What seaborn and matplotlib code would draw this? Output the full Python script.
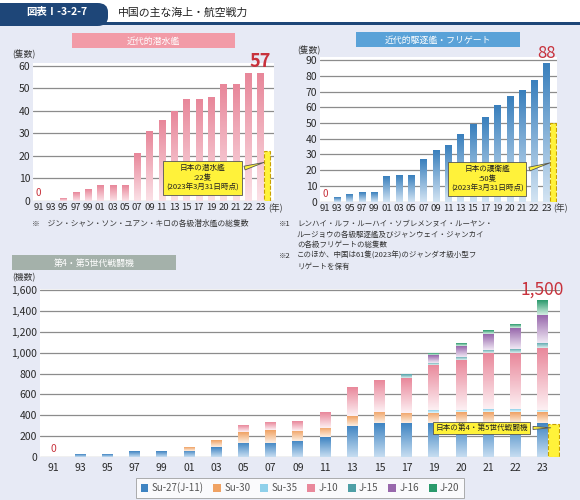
import numpy as np
import matplotlib
matplotlib.use('Agg')
import matplotlib.pyplot as plt
import seaborn as sns
from matplotlib.colors import LinearSegmentedColormap
from matplotlib.patches import Rectangle, FancyBboxPatch, Patch

# ---- data ----
years = ['91', '93', '95', '97', '99', '01', '03', '05', '07', '09',
         '11', '13', '15', '17', '19', '20', '21', '22', '23']

submarines = [0, 0, 1, 4, 5, 7, 7, 7, 21, 31, 36, 40, 45, 45, 46, 52, 52, 57, 57]
japan_submarines = 22

destroyers = [0, 3, 5, 6, 6, 16, 17, 17, 27, 33, 36, 43, 49, 54, 61, 67, 71, 77, 88]
japan_destroyers = 50

fighter_types = ['Su-27(J-11)', 'Su-30', 'Su-35', 'J-10', 'J-15', 'J-16', 'J-20']
su27 = [0, 22, 22, 48, 54, 60, 93, 137, 137, 156, 189, 300, 322, 322, 325, 325, 330, 330, 330]
su30 = [0, 0, 0, 0, 0, 29, 63, 105, 122, 96, 92, 90, 106, 103, 100, 105, 105, 105, 100]
su35 = [0] * 14 + [24, 24, 24, 24, 24]
j10 = [0, 0, 0, 0, 0, 0, 0, 64, 70, 93, 153, 277, 300, 329, 432, 475, 535, 535, 590]
j15 = [0] * 13 + [38, 24, 30, 35, 40, 50]
j16 = [0] * 14 + [70, 100, 150, 200, 266]
j20 = [0] * 14 + [12, 20, 30, 35, 140]
fighter_counts = [su27, su30, su35, j10, j15, j16, j20]
japan_fighters = 320

# (top colour, bottom colour) of each gradient
fighter_colors = [('#3f84c2', '#c6ddf1'), ('#f0a263', '#fdeee2'), ('#8fd0ea', '#e6f6fb'),
                  ('#e9889b', '#fdf0f3'), ('#4e9fa6', '#dcefef'), ('#9868ac', '#f0e8f4'),
                  ('#2b9a6c', '#d4efe3')]

W, H = 580, 500
RED = '#c8323c'
YELLOW = '#fff23a'
GRID = '#8c8c8c'


def fx(x):
    return x / W


def fy(y):
    return 1 - y / H


def paint_gradient(ax, bars, top, bottom):
    cmap = LinearSegmentedColormap.from_list('g', [bottom, top])
    grad = np.linspace(1, 0, 64).reshape(-1, 1)
    for bar in bars:
        h = bar.get_height()
        bar.set_facecolor('none')
        bar.set_edgecolor('none')
        if h <= 0:
            continue
        x0, y0, w = bar.get_x(), bar.get_y(), bar.get_width()
        ax.imshow(grad, cmap=cmap, vmin=0, vmax=1, aspect='auto', origin='upper',
                  extent=[x0, x0 + w, y0, y0 + h], zorder=1.5, interpolation='bilinear')


def style_axes(ax, yticks, labelsize):
    ax.set_facecolor('white')
    ax.set_axisbelow(True)
    ax.grid(axis='y', color=GRID, linewidth=0.9)
    ax.grid(axis='x', visible=False)
    for s in ax.spines.values():
        s.set_visible(False)
    ax.set_yticks(yticks)
    ax.tick_params(axis='both', length=0, labelsize=labelsize, colors='#2a2a2a', pad=2)
    ax.set_xlabel('')
    ax.set_ylabel('')


def fig_rect(fig, x0, y0, x1, y1, color, z=0):
    fig.patches.append(Rectangle((fx(x0), fy(y1)), (x1 - x0) / W, (y1 - y0) / H,
                                 transform=fig.transFigure, facecolor=color,
                                 edgecolor='none', zorder=z))


sns.set_theme(style='white')
plt.rcParams['font.family'] = ['Noto Sans CJK JP', 'DejaVu Sans']

fig = plt.figure(figsize=(5.8, 5.0), dpi=100)
fig.patch.set_facecolor('#e7eaf5')

# header
fig_rect(fig, 0, 0, W, 24, 'white', z=-3)
fig.patches.append(FancyBboxPatch((fx(-12), fy(26)), 120 / W, 23 / H,
                                  boxstyle='round,pad=0,rounding_size=0.018',
                                  transform=fig.transFigure, facecolor='#1e4678',
                                  edgecolor='none', zorder=-2))
fig_rect(fig, 0, 22, W, 25, '#1e4678', z=-1)
fig.text(fx(57), fy(12.5), '図表Ⅰ-3-2-7', color='white', fontsize=7.5,
         fontweight='bold', ha='center', va='center')
fig.text(fx(118), fy(12.5), '中国の主な海上・航空戦力', color='#222222', fontsize=7.8,
         ha='left', va='center')

# panel title boxes
for (x0, y0, x1, y1), color, label in [((72, 33, 235, 48), '#f29ba7', '近代的潜水艦'),
                                       ((356, 32, 520, 47), '#5aa2d8', '近代的駆逐艦・フリゲート'),
                                       ((12, 255, 176, 270), '#a4b1aa', '第4・第5世代戦闘機')]:
    fig_rect(fig, x0, y0, x1, y1, color, z=-1)
    fig.text(fx((x0 + x1) / 2), fy((y0 + y1) / 2 + 0.5), label, color='white',
             fontsize=6.4, ha='center', va='center', zorder=4)

# ---- submarines ----
ax1 = fig.add_axes([fx(33), fy(200.7), 241 / W, (200.7 - 62.6) / H])
sns.barplot(x=years, y=submarines, color='#e9889b', width=0.5, errorbar=None, ax=ax1)
paint_gradient(ax1, ax1.patches, '#e8879a', '#fbe1e7')
jx = len(years) - 1 + 0.5
ax1.bar(jx, japan_submarines, width=0.5, facecolor=YELLOW, edgecolor='#c9a200',
        linestyle='--', linewidth=0.8, zorder=2)
style_axes(ax1, range(0, 61, 10), 7.5)
ax1.tick_params(axis='x', labelsize=6.8)
ax1.set_xlim(-0.46, 19.1)
ax1.set_ylim(0, 61.5)
ax1.text(0, 1.2, str(submarines[0]), color=RED, fontsize=7, ha='center', va='bottom')
ax1.text(len(years) - 1, 57.8, str(submarines[-1]), color=RED, fontsize=13,
         fontweight='bold', ha='center', va='bottom', clip_on=False)
ax1.annotate(f'日本の潜水艦\n:{japan_submarines}隻\n(2023年3月31日時点)',
             xy=(jx, 17.4), xytext=(13.3, 10.1), ha='center', va='center',
             fontsize=5.5, linespacing=1.3, color='#222222',
             bbox=dict(boxstyle='square,pad=0.35', fc=YELLOW, ec='#555555', lw=0.6),
             arrowprops=dict(arrowstyle='wedge,tail_width=0.5,shrink_factor=0.5',
                             fc=YELLOW, ec='#555555', lw=0.6, relpos=(1, 0.8)),
             zorder=5)
fig.text(fx(12), fy(54.5), '(隻数)', fontsize=6.3, color='#333333', va='center')
fig.text(fx(268), fy(208), '(年)', fontsize=6.3, color='#333333', va='center')
fig.text(fx(32), fy(223.5), '※　ジン・シャン・ソン・ユアン・キロの各級潜水艦の総隻数',
         fontsize=5.6, color='#333333', va='center')

# ---- destroyers / frigates ----
ax2 = fig.add_axes([fx(320), fy(201.7), 237 / W, (201.7 - 56.9) / H])
sns.barplot(x=years, y=destroyers, color='#3f84c2', width=0.5, errorbar=None, ax=ax2)
paint_gradient(ax2, ax2.patches, '#3a80bd', '#d3e4f3')
ax2.bar(jx, japan_destroyers, width=0.5, facecolor=YELLOW, edgecolor='#c9a200',
        linestyle='--', linewidth=0.8, zorder=2)
style_axes(ax2, range(0, 91, 10), 7.5)
ax2.tick_params(axis='x', labelsize=6.8)
ax2.set_xlim(-0.4, 18.85)
ax2.set_ylim(0, 92)
ax2.text(0, 2.0, str(destroyers[0]), color=RED, fontsize=7, ha='center', va='bottom')
ax2.text(len(years) - 1, 88.6, str(destroyers[-1]), color=RED, fontsize=12,
         ha='center', va='bottom', clip_on=False)
ax2.annotate(f'日本の護衛艦\n:{japan_destroyers}隻\n(2023年3月31日時点)',
             xy=(jx, 25.2), xytext=(13.2, 14.4), ha='center', va='center',
             fontsize=5.5, linespacing=1.3, color='#222222',
             bbox=dict(boxstyle='square,pad=0.35', fc=YELLOW, ec='#555555', lw=0.6),
             arrowprops=dict(arrowstyle='wedge,tail_width=0.5,shrink_factor=0.5',
                             fc=YELLOW, ec='#555555', lw=0.6, relpos=(1, 0.8)),
             zorder=5)
fig.text(fx(297), fy(50), '(隻数)', fontsize=6.3, color='#333333', va='center')
fig.text(fx(553), fy(208.5), '(年)', fontsize=6.3, color='#333333', va='center')
notes = [(224, '※1', 'レンハイ・ルフ・ルーハイ・ソブレメンヌイ・ルーヤン・'),
         (234.5, '', 'ルージョウの各級駆逐艦及びジャンウェイ・ジャンカイ'),
         (245, '', 'の各級フリゲートの総隻数'),
         (256, '※2', 'このほか、中国は61隻(2023年)のジャンダオ級小型フ'),
         (266.5, '', 'リゲートを保有')]
for y, mark, line in notes:
    if mark:
        fig.text(fx(279), fy(y), mark, fontsize=5.4, color='#333333', va='center')
    fig.text(fx(297), fy(y), line, fontsize=5.4, color='#333333', va='center')

# ---- fighters (stacked) ----
ax3 = fig.add_axes([fx(40), fy(457), 520 / W, (457 - 289) / H])
stack = np.zeros(len(years))
for vals, (top, bottom) in zip(fighter_counts, fighter_colors):
    n0 = len(ax3.patches)
    sns.barplot(x=years, y=vals, bottom=stack.copy(), color=top, width=0.4,
                errorbar=None, ax=ax3)
    paint_gradient(ax3, ax3.patches[n0:], top, bottom)
    stack += np.array(vals)
fx3 = len(years) - 1 + 0.4
ax3.bar(fx3, japan_fighters, width=0.4, facecolor=YELLOW, edgecolor='#c9a200',
        linestyle='--', linewidth=0.8, zorder=2)
style_axes(ax3, range(0, 1601, 200), 7.5)
ax3.set_yticklabels([f'{v:,}' for v in range(0, 1601, 200)])
ax3.tick_params(axis='x', labelsize=7.5, pad=4)
ax3.set_xlim(-0.48, 18.64)
ax3.set_ylim(0, 1610)
ax3.text(0, 25, str(int(stack[0])), color=RED, fontsize=7.5, ha='center', va='bottom')
ax3.text(len(years) - 1, 1515, f'{int(stack[-1]):,}', color=RED, fontsize=12.5,
         ha='center', va='bottom', clip_on=False)
ax3.annotate('日本の第4・第5世代戦闘機', xy=(fx3, 280), xytext=(15.75, 278),
             ha='center', va='center', fontsize=5.5, color='#222222',
             bbox=dict(boxstyle='square,pad=0.3', fc=YELLOW, ec='#555555', lw=0.6),
             arrowprops=dict(arrowstyle='wedge,tail_width=0.4,shrink_factor=0.5',
                             fc=YELLOW, ec='#555555', lw=0.6, relpos=(1, 0.5)),
             zorder=5)
fig.text(fx(12), fy(277.5), '(機数)', fontsize=6.3, color='#333333', va='center')

handles = [Patch(facecolor=top, edgecolor='none', label=name)
           for name, (top, bottom) in zip(fighter_types, fighter_colors)]
leg = fig.legend(handles=handles, loc='center', bbox_to_anchor=(fx(300), fy(488)),
                 ncol=len(handles), fontsize=7, frameon=True, fancybox=False,
                 edgecolor='#999999', handlelength=0.8, handleheight=0.8,
                 handletextpad=0.35, columnspacing=1.0, borderpad=0.45)
leg.get_frame().set_linewidth(0.7)
for t in leg.get_texts():
    t.set_color('#555555')

fig.savefig('out.png', dpi=100, facecolor=fig.get_facecolor())
